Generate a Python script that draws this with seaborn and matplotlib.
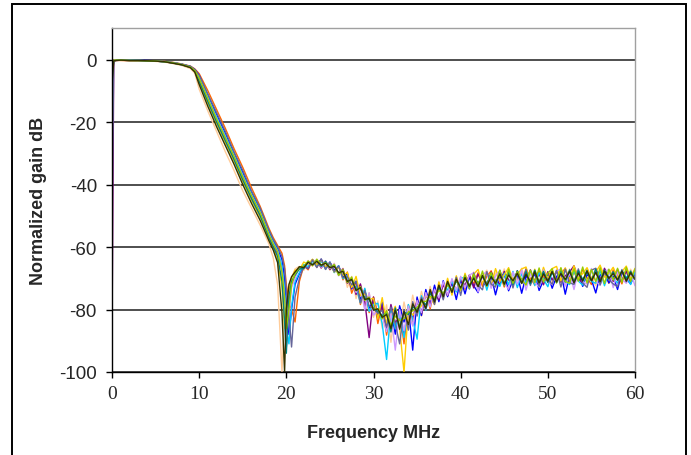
import matplotlib

matplotlib.use("Agg")
import matplotlib.pyplot as plt
import pandas as pd
import seaborn as sns
from matplotlib.patches import Rectangle

# frequency grid (MHz), shared by every trace
freq_mhz = [
    0, 0.2, 0.5, 1, 2, 3, 4, 5, 6, 7, 8, 9, 9.5, 10, 11, 12, 13, 14, 15, 16, 17, 18, 18.5, 19, 19.5, 19.8, 20, 20.3, 20.6,
    21, 21.5, 22, 22.5, 23, 23.5, 24, 24.5, 25, 25.5, 26, 26.5, 27, 27.5, 28, 28.5, 29, 29.5, 30,
    30.5, 31, 31.5, 32, 32.5, 33, 33.5, 34, 34.5, 35, 35.5, 36, 36.5, 37, 37.5, 38, 38.5, 39, 39.5, 40,
    40.5, 41, 41.5, 42, 42.5, 43, 43.5, 44, 44.5, 45, 45.5, 46, 46.5, 47, 47.5, 48, 48.5, 49, 49.5, 50,
    50.5, 51, 51.5, 52, 52.5, 53, 53.5, 54, 54.5, 55, 55.5, 56, 56.5, 57, 57.5, 58, 58.5, 59, 59.5, 60,
]

gain_peach = [
    -3, -0.5, -0.3, -0.2, -0.3, -0.4, -0.4, -0.6, -0.8, -1.3, -1.9, -2.9, -4.4, -9.5, -16.5, -23, -29.5, -35.5, -42, -47.5, -53, -59, -63.5, -72, -100, -82, -76, -72, -70,
    -67.0, -66.2, -67.5, -64.3, -66.1, -63.9, -66.8, -64.7, -67.4, -65.2, -69.0, -66.8, -72.9, -69.4, -76.5, -72.0, -79.8, -74.6, -82.5,
    -77.2, -86.0, -78.5, -90.5, -79.0, -85.8, -77.6, -83.9, -75.4, -81.7, -74.2, -79.5, -72.6, -77.8, -71.0, -76.2, -70.4, -74.8, -69.5, -73.9,
    -68.9, -73.2, -68.0, -72.5, -69.6, -67.4, -72.8, -68.3, -71.1, -67.0, -72.0, -68.5, -70.7, -66.8, -71.6, -68.2, -72.4, -67.5, -70.3, -68.0,
    -71.8, -67.2, -69.9, -72.1, -67.0, -70.5, -68.1, -71.7, -66.9, -70.0, -72.3, -67.6, -69.5, -71.2, -66.7, -70.8, -68.4, -71.5, -67.1, -70.2,
]
gain_orange = [
    -12, -0.6, -0.3, -0.3, -0.4, -0.4, -0.5, -0.5, -0.6, -0.9, -1.4, -2.1, -3.0, -4.5, -10, -16, -22, -28.5, -34.5, -41, -47, -54, -57, -59.5, -62, -66, -72, -78, -80,
    -84.0, -71.0, -66.0, -67.3, -64.2, -66.5, -64.0, -67.0, -65.0, -68.1, -66.2, -70.5, -68.0, -74.8, -71.2, -78.4, -73.5, -81.0, -76.0,
    -84.5, -78.0, -88.2, -79.6, -86.5, -80.3, -91.0, -78.5, -85.0, -76.4, -82.0, -74.0, -79.8, -72.9, -77.1, -71.5, -75.6, -70.6, -74.2, -69.7,
    -73.5, -69.0, -71.8, -68.2, -72.6, -69.4, -67.6, -71.9, -68.7, -72.8, -67.9, -70.6, -68.0, -71.5, -66.9, -70.2, -72.0, -67.8, -69.6, -71.0,
    -67.5, -70.4, -68.6, -66.8, -71.3, -68.0, -70.9, -67.2, -69.8, -72.0, -66.9, -70.1, -68.3, -71.6, -67.4, -69.0, -71.8, -67.0, -70.5, -68.2,
]
gain_blue = [
    -1, -0.3, -0.2, -0.1, -0.2, -0.3, -0.3, -0.4, -0.6, -1.0, -1.5, -2.2, -3.2, -5, -11.5, -17.5, -23.5, -30, -36, -42.5, -48, -55, -58, -60.5, -64, -70, -78, -88, -80,
    -72.0, -68.5, -65.8, -66.9, -64.0, -65.7, -63.9, -66.6, -64.8, -67.5, -66.0, -69.6, -68.7, -73.4, -70.9, -76.8, -74.0, -79.5, -77.2,
    -82.8, -77.6, -85.4, -80.2, -87.9, -78.8, -84.0, -79.5, -93.0, -76.0, -81.9, -73.6, -78.7, -72.2, -77.5, -70.8, -75.9, -71.2, -76.8, -70.3,
    -75.0, -69.7, -72.4, -74.6, -68.9, -71.8, -69.2, -75.3, -69.8, -68.6, -74.0, -70.5, -68.7, -74.8, -69.1, -71.7, -68.4, -73.9, -70.6, -68.8,
    -73.2, -69.4, -68.2, -75.1, -69.0, -71.3, -68.1, -72.6, -68.8, -70.4, -74.7, -69.0, -67.9, -71.5, -69.3, -73.6, -68.0, -70.2, -71.8, -68.5,
]
gain_purple = [
    -90, -0.4, -0.2, -0.2, -0.3, -0.3, -0.4, -0.5, -0.7, -1.1, -1.6, -2.4, -3.6, -6.5, -13, -19.5, -25.5, -31.5, -38, -44, -49.5, -56.5, -59.5, -62, -67, -78, -92, -78, -72,
    -69.0, -66.5, -66.9, -64.6, -65.8, -64.2, -66.7, -64.5, -67.2, -65.9, -68.8, -67.0, -71.6, -70.0, -75.2, -71.8, -77.4, -89.0, -76.0,
    -82.0, -79.0, -86.6, -78.4, -84.1, -82.7, -88.0, -79.6, -82.9, -77.3, -81.2, -75.0, -78.4, -73.7, -76.9, -71.9, -75.5, -70.9, -74.0, -70.6,
    -72.2, -69.0, -73.1, -68.6, -71.6, -72.4, -68.0, -70.9, -72.0, -67.8, -70.5, -71.9, -67.6, -70.8, -71.4, -67.3, -71.0, -68.5, -72.1, -67.9,
    -70.6, -67.7, -71.3, -69.2, -68.0, -66.0, -70.1, -71.6, -67.4, -70.4, -68.1, -71.2, -66.8, -69.9, -71.0, -67.2, -70.5, -67.8, -71.4, -68.3,
]
gain_sky = [
    -2, -0.3, -0.2, -0.2, -0.2, -0.3, -0.4, -0.5, -0.7, -1.0, -1.5, -2.3, -3.4, -5.5, -12, -18.5, -24.5, -30.5, -37, -43, -48.5, -55.5, -58.5, -61, -66, -74, -86, -91, -79,
    -71.0, -68.2, -65.6, -66.2, -64.5, -66.3, -64.4, -67.1, -64.9, -68.2, -66.0, -70.1, -69.3, -72.4, -72.7, -77.9, -73.2, -80.6, -78.5,
    -78.0, -84.6, -96.0, -80.1, -86.2, -81.5, -89.0, -78.4, -83.0, -89.5, -75.6, -80.2, -74.4, -76.9, -73.0, -75.0, -73.6, -71.0, -74.4, -70.1,
    -69.6, -73.4, -69.0, -72.5, -68.3, -73.8, -68.9, -71.0, -72.6, -68.4, -72.1, -67.8, -73.0, -68.5, -71.7, -67.6, -72.3, -68.2, -70.3, -72.7,
    -68.0, -71.4, -67.3, -71.1, -72.0, -67.6, -70.9, -72.2, -67.2, -71.0, -71.6, -67.5, -72.4, -68.0, -70.1, -71.5, -67.8, -69.6, -72.0, -67.9,
]
gain_gold = [
    -1, -0.2, -0.1, -0.1, -0.3, -0.4, -0.5, -0.5, -0.6, -1.0, -1.6, -2.5, -3.8, -7.5, -14, -20.5, -26.5, -32.5, -39, -45, -50.5, -57.5, -60.5, -64, -73, -86, -82, -74, -70,
    -67.4, -67.3, -64.8, -65.6, -63.9, -65.7, -64.2, -66.3, -65.0, -68.0, -66.4, -69.1, -68.2, -73.0, -69.4, -75.6, -75.0, -76.8, -76.4,
    -83.0, -76.2, -84.5, -82.1, -79.0, -86.0, -100.0, -79.4, -81.8, -80.5, -78.8, -75.6, -76.2, -78.4, -71.3, -76.0, -70.0, -75.4, -69.2, -74.0,
    -68.4, -72.8, -68.7, -67.2, -71.8, -67.9, -72.3, -66.9, -71.0, -69.0, -66.6, -70.6, -68.8, -67.0, -66.4, -71.2, -67.1, -71.5, -66.5, -70.3,
    -66.9, -66.2, -70.9, -66.7, -70.4, -66.0, -70.0, -68.5, -66.6, -70.1, -68.0, -65.8, -69.6, -68.4, -66.5, -69.8, -67.9, -66.1, -70.2, -66.8,
]
gain_lavender = [
    -4, -0.4, -0.3, -0.2, -0.3, -0.3, -0.4, -0.5, -0.7, -1.1, -1.6, -2.4, -3.5, -6, -12.5, -19, -25, -31, -37.5, -43.5, -49, -56, -59, -61.5, -68, -77, -90, -82, -73,
    -70.0, -66.4, -66.8, -65.0, -65.9, -64.0, -66.5, -64.6, -66.9, -65.4, -69.2, -67.6, -70.8, -70.3, -74.6, -72.8, -80.2, -74.7, -81.8,
    -80.3, -82.0, -87.1, -81.2, -93.0, -80.0, -86.8, -78.9, -85.3, -77.1, -81.0, -74.6, -79.2, -73.5, -76.3, -71.1, -75.4, -70.1, -73.9, -69.4,
    -73.1, -69.0, -68.2, -74.4, -68.8, -68.0, -73.2, -69.3, -67.5, -71.6, -73.5, -68.0, -71.9, -67.4, -73.8, -68.4, -71.4, -72.8, -67.3, -71.2,
    -72.0, -67.7, -67.0, -72.5, -68.2, -73.6, -67.6, -71.0, -71.9, -66.9, -70.8, -72.3, -67.8, -67.2, -73.0, -68.0, -70.3, -71.6, -68.3, -72.4,
]
gain_slate = [
    -53, -0.4, -0.3, -0.2, -0.3, -0.3, -0.4, -0.5, -0.7, -1.0, -1.5, -2.2, -3.3, -5, -11, -17, -23, -29.5, -35.5, -42, -47.5, -54.5, -57.5, -60, -63, -67, -74, -82, -92,
    -76.0, -70.0, -66.2, -66.8, -64.1, -66.6, -63.8, -67.2, -64.9, -67.9, -66.1, -69.8, -69.5, -72.1, -71.0, -77.8, -73.9, -78.9, -79.6,
    -81.2, -80.3, -85.7, -79.2, -84.5, -91.0, -80.0, -86.6, -77.5, -82.1, -76.1, -80.0, -74.3, -78.4, -72.4, -76.9, -71.4, -74.4, -69.7, -75.5,
    -69.1, -73.4, -68.3, -72.2, -73.7, -67.9, -71.9, -72.8, -67.4, -72.4, -67.7, -73.1, -68.0, -71.7, -67.2, -72.3, -67.6, -72.6, -68.1, -70.5,
    -71.9, -67.5, -72.8, -67.1, -71.4, -72.0, -67.0, -71.5, -72.9, -67.4, -66.8, -72.1, -68.1, -70.5, -71.8, -72.7, -67.2, -71.1, -68.4, -70.2,
]
gain_teal = [
    -6, -0.4, -0.2, -0.2, -0.3, -0.3, -0.4, -0.5, -0.7, -1.1, -1.7, -2.5, -3.8, -7, -13.5, -20, -26, -32, -38.5, -44.5, -50, -57, -60, -63, -71, -84, -94, -76, -71,
    -69.0, -67.0, -66.9, -64.7, -65.6, -64.4, -66.2, -64.6, -66.5, -65.8, -68.5, -67.7, -71.0, -70.3, -73.5, -73.2, -76.3, -76.9, -79.6,
    -80.6, -81.9, -81.2, -87.2, -79.5, -85.8, -80.8, -81.6, -79.3, -79.9, -77.0, -78.5, -74.8, -77.1, -72.6, -75.3, -71.8, -73.8, -70.9, -73.2,
    -69.7, -72.3, -69.5, -71.6, -69.3, -71.9, -68.3, -72.1, -68.1, -71.7, -68.0, -72.0, -67.6, -71.5, -67.9, -71.8, -67.4, -71.3, -67.8, -71.4,
    -67.7, -71.4, -67.4, -71.2, -67.3, -71.1, -67.6, -70.4, -68.1, -70.7, -67.1, -71.0, -67.4, -70.2, -67.9, -70.5, -67.6, -70.1, -67.7, -70.4,
]
gain_lime = [
    -2, -0.4, -0.2, -0.2, -0.3, -0.3, -0.4, -0.5, -0.7, -1.1, -1.6, -2.4, -3.5, -6, -12.5, -19, -25, -31, -37.5, -43.5, -49, -56, -59, -61.5, -68, -76, -86, -80, -72,
    -68.6, -66.4, -66.2, -64.5, -66.0, -63.9, -65.8, -65.0, -66.7, -65.6, -69.1, -67.2, -71.4, -69.6, -74.0, -72.7, -77.1, -76.0, -80.0,
    -79.8, -83.0, -80.4, -85.2, -82.1, -83.6, -82.9, -80.7, -80.5, -79.4, -77.5, -77.4, -75.8, -76.2, -73.9, -74.9, -72.1, -73.9, -70.4, -73.7,
    -69.0, -73.1, -68.6, -72.4, -67.7, -72.6, -68.2, -71.8, -67.5, -72.3, -67.1, -71.6, -67.9, -70.4, -72.2, -67.4, -71.4, -66.7, -71.2, -68.4,
    -66.9, -71.5, -66.6, -71.0, -71.6, -67.0, -70.9, -66.4, -71.5, -67.2, -71.1, -66.6, -71.7, -67.1, -70.6, -66.8, -71.3, -66.5, -71.0, -67.0,
]
gain_olive = [
    -8, -0.4, -0.3, -0.2, -0.3, -0.3, -0.4, -0.5, -0.7, -1.2, -1.7, -2.6, -4.0, -8, -15, -21.5, -27.5, -33.5, -40, -46, -51.5, -58, -61, -65, -81, -100, -80, -72, -69.5,
    -68.0, -66.3, -66.6, -64.9, -65.7, -64.6, -65.8, -65.2, -66.6, -66.2, -68.2, -67.8, -71.0, -70.4, -73.9, -73.0, -76.8, -76.4, -80.2,
    -79.8, -82.5, -81.6, -86.1, -80.2, -86.3, -80.6, -84.9, -78.2, -80.9, -76.7, -79.6, -73.6, -77.6, -72.2, -75.9, -71.0, -74.5, -70.3, -73.1,
    -69.8, -72.6, -70.0, -72.7, -69.1, -72.3, -69.5, -71.6, -68.6, -71.9, -69.0, -70.8, -68.4, -71.6, -68.7, -71.2, -67.9, -71.5, -68.6, -70.9,
    -67.9, -71.2, -68.5, -70.4, -67.8, -71.5, -68.3, -70.9, -67.6, -70.8, -68.1, -71.1, -67.7, -70.0, -68.5, -70.6, -67.7, -70.9, -68.2, -70.3,
]

trace_names = ["peach", "orange", "blue", "purple", "sky", "gold", "lavender", "slate", "teal", "lime", "olive"]
trace_colors = ["#FFCC99", "#FF6600", "#0000FF", "#800080", "#00CCFF", "#FFCC00",
                "#CC99FF", "#666699", "#008080", "#99CC00", "#333300"]
trace_gains = [gain_peach, gain_orange, gain_blue, gain_purple, gain_sky, gain_gold,
               gain_lavender, gain_slate, gain_teal, gain_lime, gain_olive]

x_ticks = [0, 10, 20, 30, 40, 50, 60]
y_ticks = [-100, -80, -60, -40, -20, 0]

frames = []
for name, gain in zip(trace_names, trace_gains):
    assert len(gain) == len(freq_mhz), name
    frames.append(pd.DataFrame({"freq": freq_mhz, "gain": gain, "trace": name}))
df = pd.concat(frames, ignore_index=True)

sns.set_style("white")
plt.rcParams["font.family"] = ["Liberation Sans", "DejaVu Sans"]

fig = plt.figure(figsize=(6.91, 4.56), dpi=100)
ax = fig.add_axes([112 / 691, 1 - 373 / 456, 523 / 691, (373 - 29.3) / 456])

sns.lineplot(
    data=df, x="freq", y="gain", hue="trace", hue_order=trace_names,
    palette=trace_colors, estimator=None, sort=False, legend=False,
    linewidth=1.0, ax=ax,
)

ax.set_xlim(0, 60)
ax.set_ylim(-100, 10)
ax.set_xticks(x_ticks)
ax.set_yticks(y_ticks)
ax.set_yticklabels([str(v) for v in y_ticks], fontsize=13.5)
ax.set_xticklabels([str(v) for v in x_ticks], fontsize=14, family=["Liberation Serif", "DejaVu Serif"])
ax.tick_params(axis="both", direction="out", length=4.3, width=1, color="black", left=True, bottom=True)
ax.tick_params(axis="y", pad=6.5)
ax.tick_params(axis="x", pad=5)

ax.yaxis.grid(True, color="#404040", linewidth=1.3)
ax.set_axisbelow(True)
for side in ["left", "bottom"]:
    ax.spines[side].set_color("black")
    ax.spines[side].set_linewidth(1)
for side in ["top", "right"]:
    ax.spines[side].set_color("#a0a0a0")
    ax.spines[side].set_linewidth(1)

ax.set_xlabel("Frequency MHz", fontsize=13, fontweight="bold")
ax.set_ylabel("Normalized gain dB", fontsize=13, fontweight="bold")
ax.xaxis.set_label_coords(0.5, -0.152)
ax.yaxis.set_label_coords(-0.125, 0.5)

# outer chart frame
fig.patches.append(Rectangle((12 / 691, -0.01), 674 / 691, 1.0 - 5 / 456 + 0.01,
                             transform=fig.transFigure, fill=False, edgecolor="black", linewidth=1.4))

fig.savefig("out.png", dpi=100)
